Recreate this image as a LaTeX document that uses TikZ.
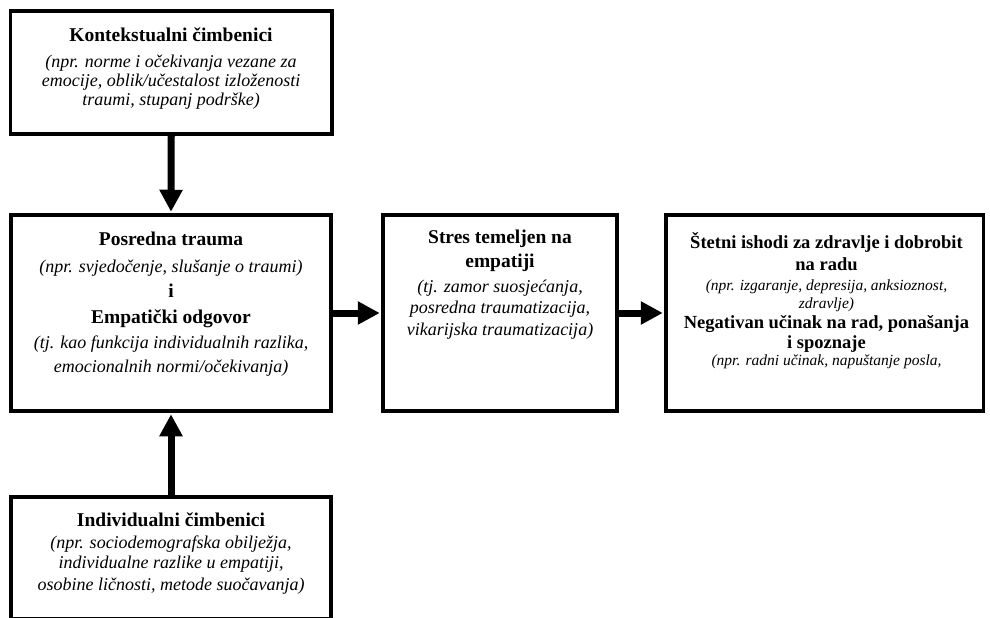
\documentclass[tikz,border=0pt]{standalone}
\usepackage{fontspec}
\setmainfont{Liberation Serif}
\usetikzlibrary{arrows.meta,positioning}
\newcommand\ttl[1]{{\fontsize{19.5}{20}\selectfont\bfseries #1}}
\newcommand\detail[1]{{\fontsize{18}{20}\selectfont\itshape #1}}
\newcommand\smallttl[1]{{\fontsize{18.5}{20}\selectfont\bfseries #1}}
\newcommand\smalldetail[1]{{\fontsize{15.5}{20}\selectfont\itshape #1}}
\begin{document}
\begin{tikzpicture}[x=1pt,y=1pt,
    box/.style={draw, line width=3.5pt, inner sep=0pt},
    flow/.style={line width=7pt, -{Triangle[width=22pt,length=22pt]}, shorten >=1.5pt},
    txt/.style={align=center, inner sep=0pt, anchor=north}]
  \useasboundingbox (0,0) rectangle (990,-618);
  % boxes
  \node[box, minimum width=321.5pt, minimum height=123pt] (ctx)   at (171.25,-72.5) {};
  \node[box, minimum width=320pt,   minimum height=196pt] (vic)   at (171,-313)     {};
  \node[box, minimum width=234pt,   minimum height=196pt] (stres) at (500,-313)     {};
  \node[box, minimum width=317.3pt, minimum height=196pt] (ishod) at (824.7,-313)   {};
  \node[box, minimum width=320pt,   minimum height=122pt] (ind)   at (171,-558)     {};
  % texts
  \node[txt, font=\fontsize{18}{19}\selectfont] (ctx-t) at (171,-27.2)
    {\ttl{Kontekstualni čimbenici}\\[7pt]
     \detail{(npr. norme i očekivanja vezane za}\\
     \detail{emocije, oblik/učestalost izloženosti}\\
     \detail{traumi, stupanj podrške)}};
  \node[txt, font=\fontsize{18}{25}\selectfont] (vic-t) at (171,-231.8)
    {\ttl{Posredna trauma}\\[1.5pt]
     \detail{(npr. svjedočenje, slušanje o traumi)}\\
     \ttl{i}\\[1.3pt]
     \ttl{Empatički odgovor}\\
     \detail{(tj. kao funkcija individualnih razlika,}\\[-1.3pt]
     \detail{emocionalnih normi/očekivanja)}};
  \node[txt, font=\fontsize{18}{22}\selectfont] (stres-t) at (500,-229.8)
    {\ttl{Stres temeljen na}\\[2pt]
     \ttl{empatiji}\\[3pt]
     \detail{(tj. zamor suosjećanja,}\\[-1pt]
     \detail{posredna traumatizacija,}\\
     \detail{vikarijska traumatizacija)}};
  \node[txt, font=\fontsize{18}{20}\selectfont] (ishod-t) at (826.5,-232)
    {\smallttl{Štetni ishodi za zdravlje i dobrobit}\\[2pt]
     \smallttl{na radu}\\
     \smalldetail{(npr. izgaranje, depresija, anksioznost,}\\[-2pt]
     \smalldetail{zdravlje)}\\
     \smallttl{Negativan učinak na rad, ponašanja}\\
     \smallttl{i spoznaje}\\[-3pt]
     \smalldetail{(npr. radni učinak, napuštanje posla,}};
  \node[txt, font=\fontsize{18}{21}\selectfont] (ind-t) at (171,-512.7)
    {\ttl{Individualni čimbenici}\\[1pt]
     \detail{(npr. sociodemografska obilježja,}\\[-1pt]
     \detail{individualne razlike u empatiji,}\\[1pt]
     \detail{osobine ličnosti, metode suočavanja)}};
  % arrows
  \draw[flow] (ctx.south)   -- (vic.north);
  \draw[flow] (ind.north)   -- (vic.south);
  \draw[flow] (vic.east)    -- (stres.west);
  \draw[flow] (stres.east)  -- (ishod.west);
\end{tikzpicture}
\end{document}
